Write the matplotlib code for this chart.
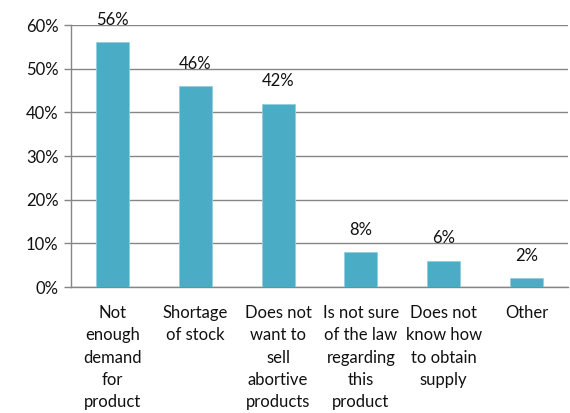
import numpy as np
import matplotlib.pyplot as plt

# reasons and share of respondents (%)
categories = ["Not\nenough\ndemand\nfor\nproduct", "Shortage\nof stock",
              "Does not\nwant to\nsell\nabortive\nproducts",
              "Is not sure\nof the law\nregarding\nthis\nproduct",
              "Does not\nknow how\nto obtain\nsupply", "Other"]
values = [56, 46, 42, 8, 6, 2]
yticks = [0, 10, 20, 30, 40, 50, 60]

plt.rcParams['font.family'] = ['Lato', 'DejaVu Sans']
fig = plt.figure(figsize=(5.7, 4.13), dpi=100)
ax = fig.add_axes([71/570, 1 - 287/413, (568 - 71)/570, (287 - 25)/413])

x = np.arange(len(values))
ax.bar(x, values, width=0.4, color='#4bacc6', edgecolor='#8fd0e0',
       linewidth=0.6, zorder=3)
for xi, v in zip(x, values):
    ax.annotate(f"{v}%", (xi, v), xytext=(0, 12.5), textcoords='offset points',
                ha='center', va='baseline', fontsize=12, color='#111111')

ax.set_xlim(-0.5, len(values) - 0.5)
ax.set_ylim(0, 60)
ax.set_yticks(yticks)
ax.set_yticklabels([f"{t}%" for t in yticks], fontsize=12, color='#111111')
ax.yaxis.grid(True, color='#868686', linewidth=1.0, zorder=0)
ax.set_xticks(x)
ax.set_xticklabels(categories, fontsize=12, linespacing=1.48, va='top',
                   color='#111111')
ax.tick_params(axis='x', length=0, pad=13)
ax.tick_params(axis='y', length=5, color='#868686', width=1.0, pad=4)

for side in ['top', 'right']:
    ax.spines[side].set_visible(False)
for side in ['left', 'bottom']:
    ax.spines[side].set_color('#868686')
    ax.spines[side].set_linewidth(1.0)

fig.savefig("out.png", dpi=100)
